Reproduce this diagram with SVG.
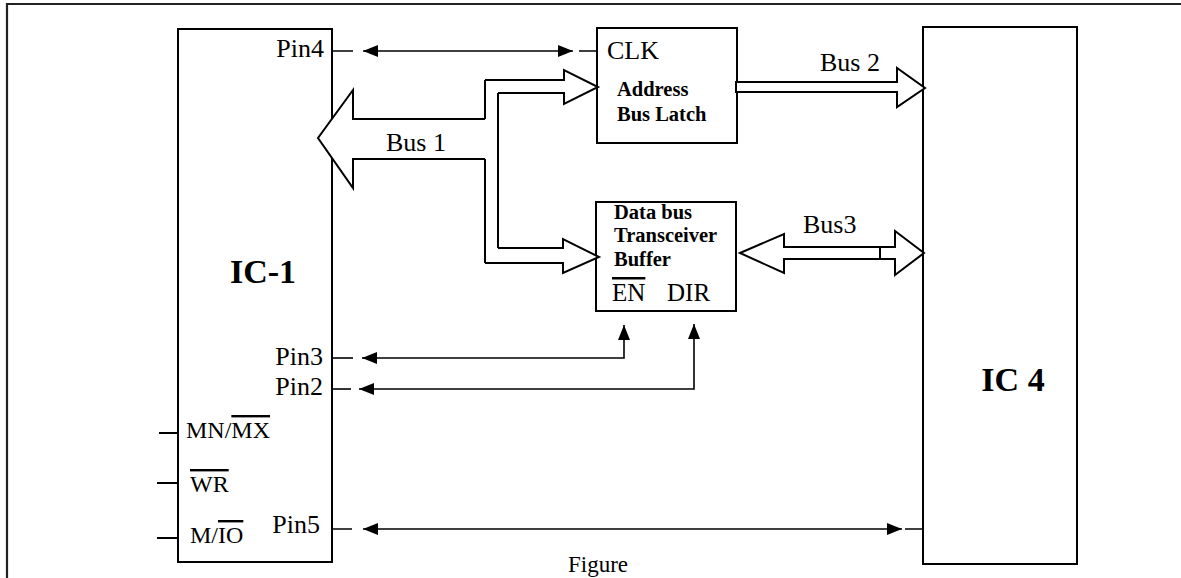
<svg xmlns="http://www.w3.org/2000/svg" width="1181" height="578" viewBox="0 0 1181 578">
<style>
.box{fill:#fff;stroke:#000;stroke-width:2}
.ln{fill:none;stroke:#000;stroke-width:1.6}
.bus{fill:#fff;stroke:#000;stroke-width:2;stroke-linejoin:miter}
.t{font-family:"Liberation Serif","Times New Roman",serif;font-size:26px;fill:#000}
.s{font-family:"Liberation Serif","Times New Roman",serif;font-size:24px;fill:#000}
.b{font-family:"Liberation Serif","Times New Roman",serif;font-size:20.5px;font-weight:bold;fill:#000}
.big{font-family:"Liberation Serif","Times New Roman",serif;font-size:34px;font-weight:bold;fill:#000}
.ov{text-decoration:overline}
</style>
<defs>
<marker id="ah" markerUnits="userSpaceOnUse" markerWidth="15" markerHeight="12" refX="15" refY="6" orient="auto-start-reverse" viewBox="0 0 15 12">
<path d="M0,0 L15,6 L0,12 z" fill="#000"/>
</marker>
</defs>
<rect width="1181" height="578" fill="#fff"/>
<g id="frame">
<path d="M7,578 V4 H1181" fill="none" stroke="#222" stroke-width="2.2"/>
</g>
<g id="ic1">
<rect class="box" x="178" y="29" width="154" height="533"/>
<text class="big" x="263" y="283" text-anchor="middle">IC-1</text>
<text class="t" x="324" y="57" text-anchor="end">Pin4</text>
<text class="t" x="323" y="365" text-anchor="end">Pin3</text>
<text class="t" x="323" y="395" text-anchor="end">Pin2</text>
<text class="t" x="320" y="533" text-anchor="end">Pin5</text>
<text class="s" x="186" y="438">MN/<tspan class="ov">MX</tspan></text>
<text class="s" x="190" y="492"><tspan class="ov">WR</tspan></text>
<text class="s" x="190" y="543">M/<tspan class="ov">IO</tspan></text>
</g>
<g id="ic4">
<rect class="box" x="923" y="27" width="154" height="537"/>
<text class="big" x="1013" y="391" text-anchor="middle">IC 4</text>
</g>
<g id="latch">
<rect class="box" x="597" y="28" width="140" height="115"/>
<text class="t" x="607" y="59">CLK</text>
<text class="b" x="617" y="96">Address</text>
<text class="b" x="617" y="121">Bus Latch</text>
</g>
<g id="transceiver">
<rect class="box" x="596" y="202" width="140" height="109"/>
<text class="b" x="614" y="219">Data bus</text>
<text class="b" x="614" y="242">Transceiver</text>
<text class="b" x="614" y="266">Buffer</text>
<text class="t" x="612" y="301" style="font-size:25px"><tspan class="ov">EN</tspan></text>
<text class="t" x="667" y="301" style="font-size:25px">DIR</text>
</g>
<g id="connectors">
<path class="bus" d="M485,119 H353 V90 L318,138 L353,188 V159 H485"/>
<path class="ln" d="M485,80 V119 M485,159 V263 M498,93 V248" style="stroke-width:2"/>
<path class="bus" d="M485,80 H564 V70 L598,87 L564,104 V93 H498"/>
<path class="bus" d="M498,248 H563 V239 L599,257 L563,273 V263 H485"/>
<path class="bus" d="M736,82 H897 V68 L925,88 L897,107 V92 H736 Z"/>
<path class="bus" d="M740,253 L784,234 V247 H895 V231 L924,253 L895,275 V259 H784 V273 Z"/>
<path class="ln" d="M880,247 V259" style="stroke-width:2"/>
<path class="ln" d="M332,51 H353 M579,51 H597"/>
<line class="ln" x1="363" y1="51" x2="573" y2="51" marker-start="url(#ah)" marker-end="url(#ah)"/>
<path class="ln" d="M332,358 H353"/>
<path class="ln" d="M362,358 H624 V325" marker-start="url(#ah)" marker-end="url(#ah)"/>
<path class="ln" d="M332,389 H351"/>
<path class="ln" d="M359,389 H694 V324" marker-start="url(#ah)" marker-end="url(#ah)"/>
<path class="ln" d="M332,529 H352 M905,529 H923"/>
<line class="ln" x1="363" y1="529" x2="902" y2="529" marker-start="url(#ah)" marker-end="url(#ah)"/>
<path class="ln" d="M159,433 H178 M157,483 H178 M157,538 H178" style="stroke-width:2"/>
</g>
<g id="labels">
<text class="t" x="386" y="151">Bus 1</text>
<text class="t" x="820" y="71">Bus 2</text>
<text class="t" x="803" y="233">Bus3</text>
<text class="t" x="598" y="572" text-anchor="middle" style="font-size:23px">Figure</text>
</g>
</svg>
